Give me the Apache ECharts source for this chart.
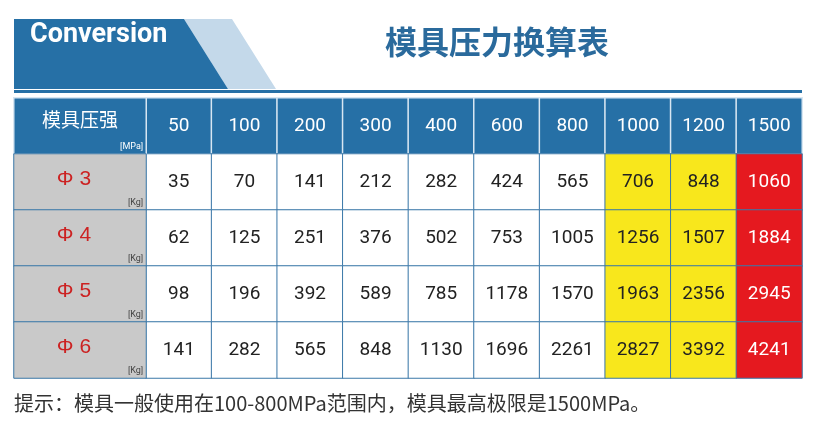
<!DOCTYPE html>
<html><head><meta charset="utf-8">
<script src="https://cdn.jsdelivr.net/npm/echarts@6/dist/echarts.min.js"></script>
<style>html,body{margin:0;padding:0;background:#fff}#c{width:813px;height:431px}</style>
</head><body><div id="c"></div>
<script>
const pressures = ['50','100','200','300','400','600','800','1000','1200','1500'];
const rowLabels = ['Φ 3','Φ 4','Φ 5','Φ 6'];
const phi3 = [35,70,141,212,282,424,565,706,848,1060];
const phi4 = [62,125,251,376,502,753,1005,1256,1507,1884];
const phi5 = [98,196,392,589,785,1178,1570,1963,2356,2945];
const phi6 = [141,282,565,848,1130,1696,2261,2827,3392,4241];
const rowsVals = [phi3, phi4, phi5, phi6];
const rowCats = ['h','r0','r1','r2','r3'];

const BLUE='#2670a6', GREY='#c9c9c9', YEL='#f8e71c', RED='#e5191f';
const font = "'Roboto',sans-serif";
const cjk = "'Noto Sans CJK SC',sans-serif";

const dataCells = [];
pressures.forEach((p,i)=>{
  dataCells.push({name:p,value:[i,0,1],itemStyle:{color:BLUE,borderColor:'#d7e6f2',borderWidth:1.5},label:{color:'#fff'}});
});
rowsVals.forEach((arr,r)=>arr.forEach((v,i)=>{
  const c = i>=9?RED:(i>=7?YEL:'#fff');
  dataCells.push({name:String(v),value:[i,r+1,v],itemStyle:{color:c,borderColor:'#3b78a8',borderWidth:1},label:{color:i>=9?'#fff':'#222'}});
}));
const leftCells=[{name:'模具压强',value:[0,0,1],itemStyle:{color:BLUE,borderColor:'#d7e6f2',borderWidth:1.5},label:{color:'#fff',fontFamily:cjk,fontSize:19,offset:[0,-6]}}];
rowLabels.forEach((l,r)=>leftCells.push({name:l,value:[0,r+1,1],itemStyle:{color:GREY,borderColor:'#3b78a8',borderWidth:1},label:{color:'#cc2222',fontSize:21,fontFamily:'Liberation Sans, sans-serif',offset:[-6,-3]}}));
const unitCells=[{name:'[MPa]',value:[0,0,1],label:{color:'#fff'}}];
rowLabels.forEach((l,r)=>unitCells.push({name:'[Kg]',value:[0,r+1,1]}));

const ax = (gi,n)=>({type:'category',gridIndex:gi,data:n,show:false});
const chart = echarts.init(document.getElementById('c'));
chart.setOption({
  animation:false,
  grid:[{left:14,width:132,top:98,height:280},{left:146,right:11,top:98,height:280}],
  xAxis:[ax(0,['l']),ax(1,pressures)],
  yAxis:[Object.assign(ax(0,rowCats),{inverse:true}),Object.assign(ax(1,rowCats),{inverse:true})],
  series:[
    {type:'heatmap',xAxisIndex:1,yAxisIndex:1,data:dataCells,
     label:{show:true,fontSize:19,fontFamily:font,formatter:p=>p.name}},
    {type:'heatmap',xAxisIndex:0,yAxisIndex:0,data:leftCells,
     label:{show:true,formatter:p=>p.name}},
    {type:'heatmap',xAxisIndex:0,yAxisIndex:0,data:unitCells,itemStyle:{color:'rgba(0,0,0,0)'},
     label:{show:true,position:'insideBottomRight',distance:3,fontSize:9,fontFamily:font,
       formatter:p=>p.name,color:'#444'}, z:5}
  ],
  graphic:[
    {type:'rect',shape:{x:14,y:90,width:788,height:3},style:{fill:BLUE}},
    {type:'polygon',shape:{points:[[184,19],[232,19],[276,89],[228,89]]},style:{fill:'#c4d9ea'}},
    {type:'polygon',shape:{points:[[14,19],[184,19],[228,89],[14,89]]},style:{fill:BLUE}},
    {type:'text',left:30,top:22,style:{text:'Conversion',fill:'#fff',font:"bold 27px 'Roboto',sans-serif",x:30,y:38,verticalAlign:'middle'}},
    {type:'text',style:{text:'模具压力换算表',fill:'#2a6a9c',font:"bold 32px 'Noto Sans CJK SC'",x:497,y:42,align:'center',verticalAlign:'middle'}},
    {type:'text',left:14,top:393,style:{text:'提示：模具一般使用在100-800MPa范围内，模具最高极限是1500MPa。',fill:'#333',font:"20px 'Noto Sans CJK SC'"}}
  ]
});
</script></body></html>
